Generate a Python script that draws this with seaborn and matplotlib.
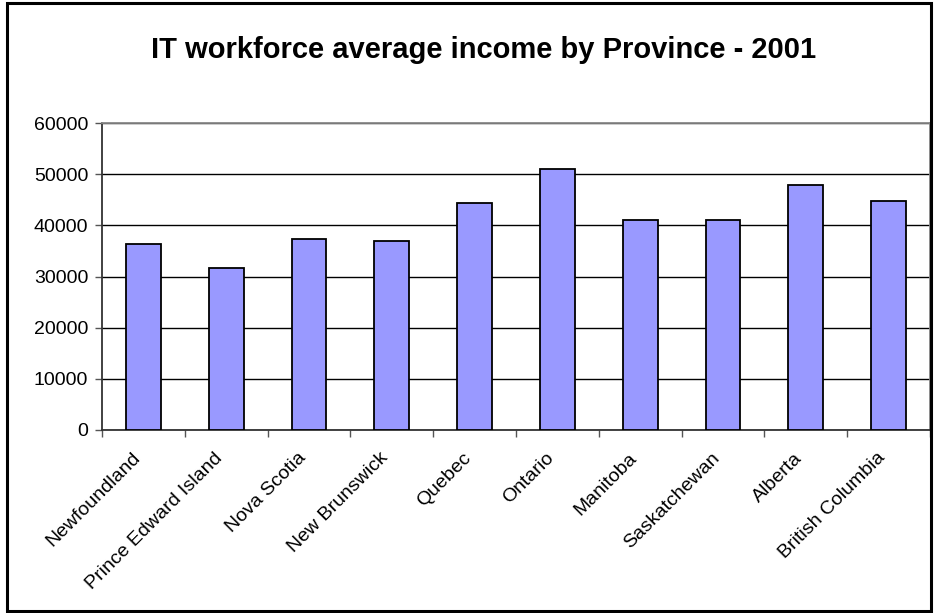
import matplotlib
matplotlib.use("Agg")
import matplotlib.pyplot as plt
import matplotlib.transforms as mtransforms
import seaborn as sns
import pandas as pd
from matplotlib.patches import Rectangle

provinces = ["Newfoundland", "Prince Edward Island", "Nova Scotia", "New Brunswick",
             "Quebec", "Ontario", "Manitoba", "Saskatchewan", "Alberta", "British Columbia"]
income = [36300, 31750, 37400, 37000, 44400, 51100, 40950, 40950, 47900, 44800]
yticks = [0, 10000, 20000, 30000, 40000, 50000, 60000]
title = "IT workforce average income by Province - 2001"

sns.set_theme(style="white")
plt.rcParams['font.family'] = ['Liberation Sans', 'DejaVu Sans']

df = pd.DataFrame({"Province": provinces, "Income": income})

fig = plt.figure(figsize=(9.35, 6.13), dpi=100)
ax = fig.add_axes([102/935, (613-430)/613, (930-102)/935, (430-123)/613])

sns.barplot(data=df, x="Province", y="Income", ax=ax, color="#9999FF",
            saturation=1, width=0.42, edgecolor="black", linewidth=1.3, zorder=3)

ax.set_ylim(0, 60000)
ax.set_xlim(-0.5, len(provinces) - 0.5)
ax.set_yticks(yticks)
ax.set_yticklabels([str(v) for v in yticks], fontsize=14, color="black")
ax.yaxis.grid(True, color="black", linewidth=1.0, zorder=0)
ax.xaxis.grid(False)
ax.set_axisbelow(True)

# x ticks at category boundaries, labels at centers
ax.set_xticks([i - 0.5 for i in range(len(provinces) + 1)], minor=False)
ax.set_xticklabels([])
ax.set_xticks(range(len(provinces)), minor=True)
ax.set_xticklabels(provinces, minor=True, rotation=45, ha="right", va="top",
                   fontsize=14, color="black")
offset = mtransforms.ScaledTranslation(-6/100, 0, fig.dpi_scale_trans)
for lbl in ax.get_xticklabels(minor=True):
    lbl.set_transform(lbl.get_transform() + offset)
ax.tick_params(axis="x", which="minor", length=0, pad=14)
ax.tick_params(axis="x", which="major", length=5, width=1, color="#555555", direction="out", bottom=True)
ax.tick_params(axis="y", length=5, width=1, color="#555555", direction="out", left=True, pad=5)

ax.set_xlabel("")
ax.set_ylabel("")

for s in ["left", "bottom"]:
    ax.spines[s].set_color("#333333")
    ax.spines[s].set_linewidth(1.3)
for s in ["top", "right"]:
    ax.spines[s].set_visible(True)
    ax.spines[s].set_color("#888888")
    ax.spines[s].set_linewidth(1.3)

fig.text(484/935, 1 - 50/613, title, ha="center", va="center",
         fontsize=21, fontweight="bold", color="black")

fig.patches.append(Rectangle((7/935, 2/613), 924/935, 608/613, transform=fig.transFigure,
                             fill=False, edgecolor="black", linewidth=2.2))

fig.savefig("out.png", dpi=100)
